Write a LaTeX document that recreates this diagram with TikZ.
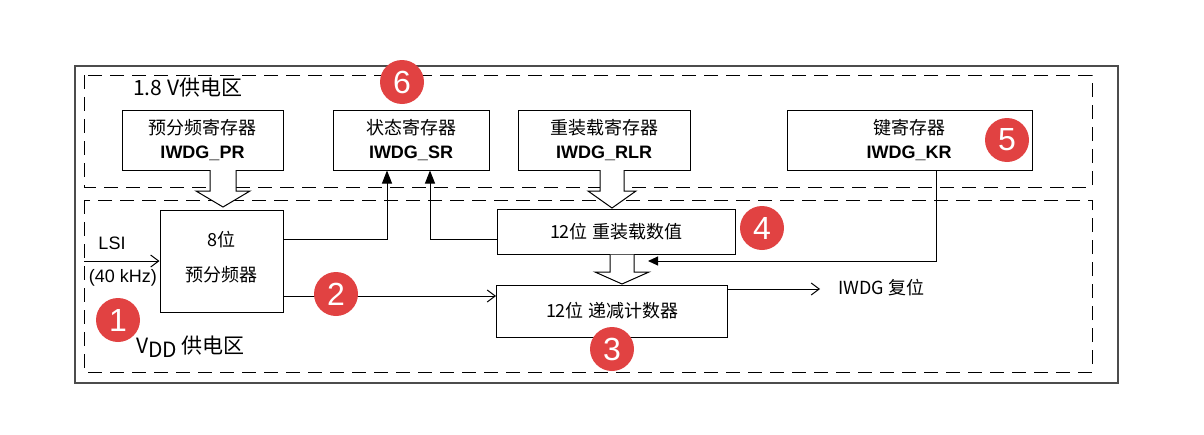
\documentclass[tikz,border=0pt]{standalone}
\usepackage{fontspec}
\setmainfont{Liberation Sans}
\newfontfamily\cjk{Noto Sans CJK SC}
\usetikzlibrary{arrows.meta}
\definecolor{badge}{RGB}{225,66,66}
\begin{document}
\begin{tikzpicture}[x=1pt,y=-1pt,
 box/.style={draw,line width=1pt,inner sep=0pt},
 dsh/.style={draw,line width=1pt,dash pattern=on 14pt off 8pt},
 ln/.style={line width=1pt},
 txt/.style={font=\fontsize{18}{20}\selectfont\cjk,inner sep=0pt},
 bt/.style={font=\fontsize{18}{20}\selectfont\bfseries,inner sep=0pt},
 bad/.style={circle,fill=badge,text=white,minimum size=44pt,inner sep=0pt,font=\fontsize{32}{32}\selectfont},
 hol/.style={draw,line width=1pt,fill=white}]
\useasboundingbox (0,0) rectangle (1204,434);
\draw[line width=1.2pt,draw=black!70] (75,66) rectangle (1118,383);
\draw[dsh] (84,75) rectangle (1092,187);
\draw[dsh] (84,200) rectangle (1092,372);
\node[txt,anchor=west,font=\fontsize{21}{22}\selectfont\cjk] (l18) at (133,88) {1.8 V供电区};
\node[txt,anchor=west,font=\fontsize{21}{22}\selectfont\cjk] (lvdd) at (136,347) {V\raisebox{-4pt}{DD} 供电区};
% registers
\node[box,minimum width=161pt,minimum height=60pt] (pr) at (202.5,140) {};
\node[txt] at (202.5,128) {预分频寄存器};
\node[bt] at (202.5,153) {IWDG\_PR};
\node[box,minimum width=156pt,minimum height=60pt] (sr) at (411,140) {};
\node[txt] at (411,128) {状态寄存器};
\node[bt] at (411,153) {IWDG\_SR};
\node[box,minimum width=172pt,minimum height=60pt] (rlr) at (604,140) {};
\node[txt] at (604,128) {重装载寄存器};
\node[bt] at (604,153) {IWDG\_RLR};
\node[box,minimum width=245pt,minimum height=60pt] (kr) at (909.5,140) {};
\node[txt] at (909,128) {键寄存器};
\node[bt] at (909,153) {IWDG\_KR};
% lower boxes
\node[box,minimum width=123pt,minimum height=102pt] (ps) at (221.5,261) {};
\node[txt] at (221.5,240) {8位};
\node[txt] at (221.5,275) {预分频器};
\node[box,minimum width=238pt,minimum height=45pt] (rv) at (616,232) {};
\node[txt] at (616,232) {12位 重装载数值};
\node[box,minimum width=231pt,minimum height=52pt] (cnt) at (612,311) {};
\node[txt] at (612,311) {12位 递减计数器};
% hollow arrows
\draw[hol] (210,170) -- (210,191) -- (196,191) -- (223,207) -- (250,191) -- (236,191) -- (236,170);
\draw[hol] (600,170) -- (600,191) -- (588,191) -- (612,208) -- (636,191) -- (624,191) -- (624,170);
\draw[hol] (610,254.5) -- (610,272) -- (595,272) -- (622,284) -- (649,272) -- (634,272) -- (634,254.5);
% connectors
\coordinate (a1) at (387,239);
\coordinate (a2) at (430,239);
\draw[ln,-{Triangle[length=13pt,width=10pt]}] (ps.east|-a1) -- (a1) -- (a1|-sr.south);
\draw[ln,-{Triangle[length=13pt,width=10pt]}] (rv.west|-a2) -- (a2) -- (a2|-sr.south);
\coordinate (k1) at (936,261);
\coordinate (k2) at (648,261);
\draw[ln,-{Triangle[length=10pt,width=9pt]}] (k1|-kr.south) -- (k1) -- (k2);
\coordinate (r1) at (820,289);
\draw[ln,-{Straight Barb[length=8pt,width=12pt]}] (cnt.east|-r1) -- (r1);
\node[txt,anchor=west] (rst) at (838,288) {IWDG 复位};
\coordinate (p1) at (283,296);
\draw[ln,-{Straight Barb[length=8pt,width=12pt]}] (p1) -- (cnt.west|-p1);
\coordinate (lsi) at (84,261);
\draw[ln,-{Straight Barb[length=8pt,width=12pt]}] (lsi) -- (ps.west|-lsi);
\node[txt,font=\fontsize{18}{20}\selectfont] (lsit) at (112,243) {LSI};
\node[txt,font=\fontsize{18}{20}\selectfont] (khz) at (123,278) {(40 kHz)};
% badges
\node[bad] (b1) at (118,320) {1};
\node[bad] (b2) at (336,294) {2};
\node[bad] (b3) at (612,349) {3};
\node[bad] (b4) at (762,228) {4};
\node[bad] (b5) at (1007,140) {5};
\node[bad] (b6) at (402,82) {6};
\end{tikzpicture}
\end{document}
